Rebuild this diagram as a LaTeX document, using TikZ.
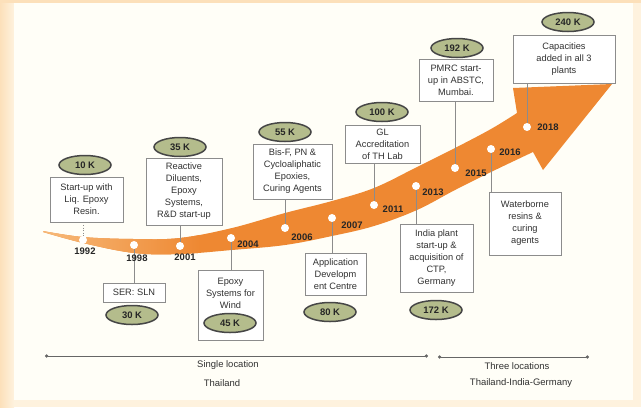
\documentclass[tikz,border=0pt]{standalone}
\usepackage{fontspec}
\setmainfont{Liberation Sans}
\usetikzlibrary{shapes.geometric,arrows.meta}
\definecolor{bgpeach}{RGB}{252,224,186}
\definecolor{bgright}{RGB}{254,242,222}
\definecolor{panel}{RGB}{255,254,247}
\definecolor{band}{RGB}{238,136,50}
\definecolor{bandlight}{RGB}{247,186,122}
\definecolor{ellfill}{RGB}{180,188,140}
\definecolor{elldraw}{RGB}{70,70,70}
\definecolor{boxdraw}{RGB}{140,140,140}
\definecolor{txt}{RGB}{50,50,50}
\def\bandpath{plot[smooth, tension=0.6] coordinates {(43,231) (83,237) (134,239) (180,238) (232,228) (285,213) (332,201) (374,188) (417,167) (455,148) (491,129) (517,113)}
  -- (513,88) -- (612,84) -- (543,170) -- (533,152)
  -- plot[smooth, tension=0.6] coordinates {(533,152) (491,172) (455,190) (417,210) (374,226) (332,236) (285,245) (232,250) (180,254) (134,253) (83,243) (43,232)}
  -- cycle}
\begin{document}
\begin{tikzpicture}[x=1bp,y=-1bp,
  boxnode/.style={draw=boxdraw, line width=0.7bp, fill=white, align=center, inner sep=1bp,
    font=\fontsize{9.3}{12}\selectfont, text=txt},
  plaintext/.style={align=center, inner sep=0pt, font=\fontsize{9.3}{12}\selectfont, text=txt},
  capell/.style={ellipse, draw=elldraw, line width=1.5bp, fill=ellfill, minimum width=52bp,
    minimum height=19bp, inner sep=0pt, font=\bfseries\fontsize{9.5}{11}\selectfont, text=black!85},
  yeardot/.style={circle, fill=white, minimum size=8bp, inner sep=0pt},
  yearlab/.style={font=\bfseries\fontsize{9.5}{11}\selectfont, text=black!85, inner sep=0pt},
  conn/.style={draw=gray!90, line width=0.6bp},
  tline/.style={draw=black!60, line width=0.8bp, {Circle[length=3.2bp]}-{Circle[length=3.2bp]}},
  loc/.style={font=\fontsize{9.5}{11}\selectfont, text=txt, inner sep=0pt}]
% background
\useasboundingbox (0,0) rectangle (641,407);
\fill[bgright] (0,0) rectangle (641,407);
\shade[left color=bgpeach, right color=bgright] (0,0) rectangle (14,407);
\fill[bgpeach] (0,0) rectangle (641,3);
\fill[panel] (14,3) rectangle (633,400);
% band arrow
\fill[band] \bandpath;
\begin{scope}
  \clip \bandpath;
  \shade[left color=bandlight, right color=band] (40,200) rectangle (200,270);
\end{scope}
% boxes above
\node[boxnode, minimum width=73bp, minimum height=45bp] (b1992) at (86.5,199.5) {Start-up with\\Liq. Epoxy\\Resin.};
\node[boxnode, minimum width=76bp, minimum height=67bp] (b2001) at (184,191.5) {Reactive\\Diluents,\\Epoxy\\Systems,\\R\&D start-up};
\node[boxnode, minimum width=79bp, minimum height=55bp] (b2006) at (292.5,171.5) {Bis-F, PN \&\\Cycloaliphatic\\Epoxies,\\Curing Agents};
\node[boxnode, minimum width=75bp, minimum height=38bp] (b2011) at (382.5,144) {GL\\Accreditation\\of TH Lab};
\node[boxnode, minimum width=74bp, minimum height=42bp] (b2015) at (456,80) {PMRC start-\\up in ABSTC,\\Mumbai.};
\node[boxnode, minimum width=102bp, minimum height=48bp] (b2018) at (564,59) {Capacities\\added in all 3\\plants};
% boxes below
\node[boxnode, minimum width=62bp, minimum height=19bp] (b1998) at (134,292.5) {SER: SLN};
\node[boxnode, minimum width=65bp, minimum height=70bp] (b2004) at (230.5,305) {};
\node[plaintext] (t2004) at (230.5,293) {Epoxy\\Systems for\\Wind};
\node[boxnode, minimum width=61bp, minimum height=42bp] (b2007) at (335.5,274) {Application\\Developm\\ent Centre};
\node[boxnode, minimum width=73bp, minimum height=68bp] (b2013) at (436.5,258) {India plant\\start-up \&\\acquisition of\\CTP,\\Germany};
\node[boxnode, minimum width=72bp, minimum height=63bp] (b2016) at (525,223.5) {Waterborne\\resins \&\\curing\\agents};
% capacity ellipses
\node[capell] (c10) at (85,165) {10 K};
\node[capell] (c35) at (180,147) {35 K};
\node[capell] (c55) at (285,132) {55 K};
\node[capell] (c100) at (382,112) {100 K};
\node[capell] (c192) at (457,48) {192 K};
\node[capell] (c240) at (568,22) {240 K};
\node[capell] (c30) at (132,315) {30 K};
\node[capell] (c45) at (230,323) {45 K};
\node[capell] (c80) at (330,312) {80 K};
\node[capell] (c172) at (436,310) {172 K};
% year dots
\node[yeardot] (d1992) at (83,240) {};
\node[yeardot] (d1998) at (134,245) {};
\node[yeardot] (d2001) at (180,246) {};
\node[yeardot] (d2004) at (231,238) {};
\node[yeardot] (d2006) at (285,228) {};
\node[yeardot] (d2007) at (332,218) {};
\node[yeardot] (d2011) at (374,205) {};
\node[yeardot] (d2013) at (416,186) {};
\node[yeardot] (d2015) at (455,168) {};
\node[yeardot] (d2016) at (491,149) {};
\node[yeardot] (d2018) at (527,127) {};
% connectors
\draw[conn, dotted] (d1992 |- b1992.south) -- (d1992);
\draw[conn] (d2001 |- b2001.south) -- (d2001);
\draw[conn] (d2006 |- b2006.south) -- (d2006);
\draw[conn] (d2011 |- b2011.south) -- (d2011);
\draw[conn] (d2015 |- b2015.south) -- (d2015);
\draw[conn] (d2018 |- b2018.south) -- (d2018);
\draw[conn] (d1998) -- (d1998 |- b1998.north);
\draw[conn] (d2004) -- (d2004 |- b2004.north);
\draw[conn] (d2007) -- (d2007 |- b2007.north);
\draw[conn] (d2013) -- (d2013 |- b2013.north);
\draw[conn] (d2016) -- (d2016 |- b2016.north);
% year labels
\node[yearlab] (y1992) at (85,251) {1992};
\node[yearlab] (y1998) at (137,258) {1998};
\node[yearlab] (y2001) at (185,257) {2001};
\node[yearlab] (y2004) at (248,244) {2004};
\node[yearlab] (y2006) at (302,237) {2006};
\node[yearlab] (y2007) at (352,225) {2007};
\node[yearlab] (y2011) at (393,209) {2011};
\node[yearlab] (y2013) at (433,192) {2013};
\node[yearlab] (y2015) at (476,173) {2015};
\node[yearlab] (y2016) at (510,152) {2016};
\node[yearlab] (y2018) at (548,127) {2018};
% bottom timeline
\coordinate (l1a) at (45,356);
\coordinate (l1b) at (428,356);
\coordinate (l2a) at (438,357);
\coordinate (l2b) at (589,357);
\draw[tline] (l1a) -- (l1b);
\draw[tline] (l2a) -- (l2b);
\node[loc] (s1) at (228,365) {Single location};
\node[loc] (s2) at (222,383) {Thailand};
\node[loc] (s3) at (517,366) {Three locations};
\node[loc] (s4) at (521,383) {Thailand-India-Germany};
\end{tikzpicture}
\end{document}
